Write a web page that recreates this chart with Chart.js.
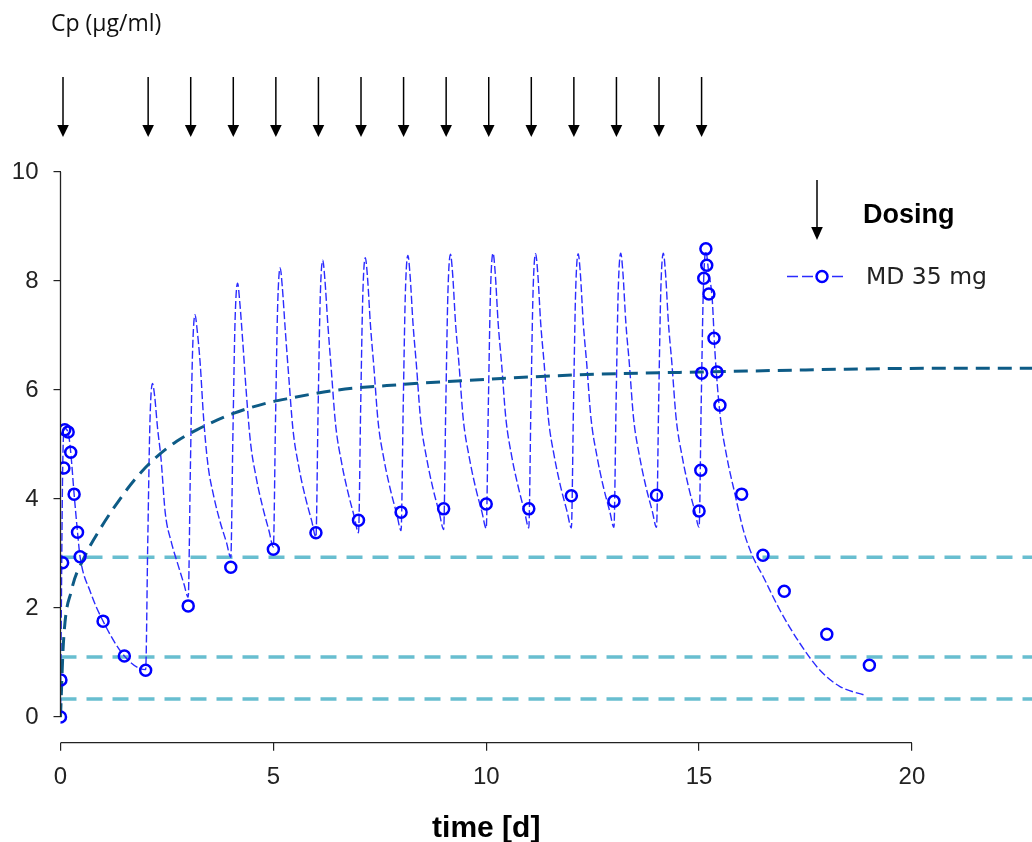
<!DOCTYPE html>
<html>
<head>
<meta charset="utf-8">
<script src="https://cdn.jsdelivr.net/npm/chart.js@4"></script>
<style>
  html, body { margin: 0; padding: 0; background: #fff; }
  canvas { display: block; }
</style>
</head>
<body>
<canvas id="pkChart" width="1032" height="842"></canvas>
<script>
// dosing times [d]
const doseTimes = [0, 2, 3, 4, 5, 6, 7, 8, 9, 10, 11, 12, 13, 14, 15];

// measured plasma concentrations, MD 35 mg
const obsTime = [0, 0.01, 0.05, 0.08, 0.1, 0.18, 0.24, 0.32, 0.4, 0.46, 1, 1.5, 2, 3, 4, 5, 6, 7, 8, 9, 10, 11, 12, 13, 14,
  15, 15.04, 15.06, 15.11, 15.16, 15.18, 15.23, 15.35, 15.42, 15.49, 16, 16.5, 17, 18, 19];
const obsConc = [0, 0.68, 2.83, 4.57, 5.27, 5.23, 4.86, 4.09, 3.39, 2.94, 1.76, 1.12, 0.86, 2.04, 2.75, 3.08, 3.38, 3.61, 3.76, 3.82, 3.91, 3.82, 4.06, 3.96, 4.07,
  3.78, 4.53, 6.31, 8.05, 8.59, 8.29, 7.76, 6.95, 6.33, 5.72, 4.09, 2.97, 2.31, 1.52, 0.95];

// fitted model profile (one row per dosing interval)
const modelTime = [
  0, 0.02, 0.05, 0.09, 0.18, 0.24, 0.32, 0.4, 0.46, 0.7, 1.0, 1.5,
  2, 2.05, 2.1, 2.16, 2.21, 2.28, 2.36, 2.46, 2.6, 2.75, 2.9,
  3, 3.05, 3.1, 3.16, 3.21, 3.28, 3.36, 3.46, 3.6, 3.75, 3.9,
  4, 4.05, 4.1, 4.16, 4.21, 4.28, 4.36, 4.46, 4.6, 4.75, 4.9,
  5, 5.05, 5.1, 5.16, 5.21, 5.28, 5.36, 5.46, 5.6, 5.75, 5.9,
  6, 6.05, 6.1, 6.16, 6.21, 6.28, 6.36, 6.46, 6.6, 6.75, 6.9,
  7, 7.05, 7.1, 7.16, 7.21, 7.28, 7.36, 7.46, 7.6, 7.75, 7.9,
  8, 8.05, 8.1, 8.16, 8.21, 8.28, 8.36, 8.46, 8.6, 8.75, 8.9,
  9, 9.05, 9.1, 9.16, 9.21, 9.28, 9.36, 9.46, 9.6, 9.75, 9.9,
  10, 10.05, 10.1, 10.16, 10.21, 10.28, 10.36, 10.46, 10.6, 10.75, 10.9,
  11, 11.05, 11.1, 11.16, 11.21, 11.28, 11.36, 11.46, 11.6, 11.75, 11.9,
  12, 12.05, 12.1, 12.16, 12.21, 12.28, 12.36, 12.46, 12.6, 12.75, 12.9,
  13, 13.05, 13.1, 13.16, 13.21, 13.28, 13.36, 13.46, 13.6, 13.75, 13.9,
  14, 14.05, 14.1, 14.16, 14.21, 14.28, 14.36, 14.46, 14.6, 14.75, 14.9,
  15, 15.05, 15.1, 15.16, 15.22, 15.31, 15.37, 15.49, 15.65, 15.84, 16.04, 16.23, 16.51, 16.9, 17.37, 17.84, 18.31, 18.9
];
const modelConc = [
  0, 2.0, 4.5, 5.3, 5.22, 4.86, 4.09, 3.39, 2.94, 2.3, 1.76, 1.12,
  0.87, 3.23, 5.39, 6.12, 5.9, 5.3, 4.75, 3.75, 3.22, 2.82, 2.44,
  2.2, 4.53, 6.65, 7.38, 7.1, 6.5, 5.5, 4.65, 4.05, 3.58, 3.2,
  2.93, 5.19, 7.26, 7.96, 7.62, 6.9, 6.0, 5.06, 4.38, 3.85, 3.41,
  3.12, 5.42, 7.52, 8.24, 7.89, 7.1, 6.26, 5.28, 4.58, 4.04, 3.6,
  3.3, 5.59, 7.67, 8.38, 8.03, 7.2, 6.38, 5.38, 4.68, 4.13, 3.68,
  3.38, 5.65, 7.72, 8.43, 8.08, 7.2, 6.43, 5.42, 4.72, 4.17, 3.72,
  3.42, 5.69, 7.76, 8.47, 8.12, 7.22, 6.46, 5.45, 4.75, 4.19, 3.74,
  3.44, 5.71, 7.78, 8.49, 8.14, 7.22, 6.48, 5.47, 4.77, 4.21, 3.76,
  3.46, 5.73, 7.8, 8.51, 8.16, 7.23, 6.49, 5.49, 4.78, 4.23, 3.77,
  3.47, 5.73, 7.8, 8.5, 8.15, 7.22, 6.49, 5.48, 4.78, 4.22, 3.77,
  3.47, 5.73, 7.8, 8.5, 8.15, 7.22, 6.49, 5.49, 4.79, 4.23, 3.78,
  3.48, 5.74, 7.81, 8.51, 8.16, 7.23, 6.5, 5.49, 4.79, 4.23, 3.78,
  3.48, 5.74, 7.81, 8.51, 8.16, 7.23, 6.5, 5.49, 4.79, 4.23, 3.78,
  3.48, 5.76, 7.84, 8.55, 8.2, 7.65, 6.73, 5.57, 4.78, 4.1, 3.43, 3.0, 2.57, 1.96, 1.35, 0.86, 0.56, 0.4
];

// mean concentration build-up
const meanTime = [0, 0.07, 0.26, 0.54, 0.93, 1.47, 1.79, 2.18, 2.73, 3.2, 4.06, 4.84, 5.39, 6.5, 8, 9.6, 12.2, 15, 20.9, 22.82];
const meanConc = [0, 1.38, 2.33, 2.9, 3.45, 4.08, 4.4, 4.72, 5.06, 5.27, 5.57, 5.76, 5.85, 6.0, 6.1, 6.18, 6.28, 6.33, 6.4, 6.4];

// reference levels
const refLevels = [2.93, 1.1, 0.33];

const xTicks = [0, 5, 10, 15, 20];
const yTicks = [0, 2, 4, 6, 8, 10];

const sansFont = "'Liberation Sans', Arial, sans-serif";

function pts(xs, ys) {
  return xs.map((x, i) => ({ x: x, y: ys[i] }));
}

function drawArrow(ctx, x, yTop, yHead, yTip, halfW) {
  ctx.beginPath();
  ctx.moveTo(x, yTop);
  ctx.lineTo(x, yHead + 1);
  ctx.stroke();
  ctx.beginPath();
  ctx.moveTo(x - halfW, yHead);
  ctx.lineTo(x + halfW, yHead);
  ctx.lineTo(x, yTip);
  ctx.closePath();
  ctx.fill();
}

// axis lines, dosing arrows, legend and titles
const decorations = {
  id: 'decorations',
  afterDraw(chart) {
    const ctx = chart.ctx;
    const xs = chart.scales.x;
    const ys = chart.scales.y;
    const area = chart.chartArea;
    ctx.save();

    ctx.strokeStyle = '#222';
    ctx.lineWidth = 1.3;
    ctx.beginPath();
    ctx.moveTo(xs.getPixelForValue(0), area.bottom);
    ctx.lineTo(xs.getPixelForValue(20), area.bottom);
    ctx.moveTo(area.left, ys.getPixelForValue(0));
    ctx.lineTo(area.left, ys.getPixelForValue(10));
    ctx.stroke();

    // dosing arrows
    ctx.strokeStyle = '#000';
    ctx.fillStyle = '#000';
    ctx.lineWidth = 1.5;
    doseTimes.forEach(t => {
      drawArrow(ctx, xs.getPixelForValue(t) + 2.5, 77, 125, 137, 5.8);
    });

    // legend
    drawArrow(ctx, 817, 180, 227, 240, 5.8);
    ctx.font = "bold 27px " + sansFont;
    ctx.textBaseline = 'alphabetic';
    ctx.textAlign = 'left';
    ctx.fillText('Dosing', 863, 223);

    ctx.strokeStyle = '#2b2bff';
    ctx.lineWidth = 1.6;
    ctx.setLineDash([11, 4]);
    ctx.beginPath();
    ctx.moveTo(787, 276.5);
    ctx.lineTo(847, 276.5);
    ctx.stroke();
    ctx.setLineDash([]);
    ctx.strokeStyle = '#0000ff';
    ctx.lineWidth = 2.5;
    ctx.fillStyle = '#fff';
    ctx.beginPath();
    ctx.arc(822, 276.5, 5.5, 0, Math.PI * 2);
    ctx.fill();
    ctx.stroke();

    ctx.fillStyle = '#222';
    ctx.font = "23.5px 'DejaVu Sans', sans-serif";
    ctx.fillText('MD 35 mg', 866, 284);

    // titles
    ctx.font = "23px 'Open Sans', sans-serif";
    ctx.fillStyle = '#111';
    ctx.fillText('Cp (µg/ml)', 51, 31);

    ctx.font = "bold 30px " + sansFont;
    ctx.fillStyle = '#000';
    ctx.textAlign = 'center';
    ctx.fillText('time [d]', xs.getPixelForValue(10), 837);

    ctx.restore();
  }
};

const ctx = document.getElementById('pkChart').getContext('2d');
new Chart(ctx, {
  type: 'scatter',
  data: {
    datasets: [
      {
        label: 'MD 35 mg',
        data: pts(obsTime, obsConc),
        showLine: false,
        pointStyle: 'circle',
        pointRadius: 5.5,
        pointBorderWidth: 2.5,
        pointBorderColor: '#0000ff',
        pointBackgroundColor: 'rgba(0,0,0,0)',
        order: 0
      },
      {
        label: 'mean',
        data: pts(meanTime, meanConc),
        showLine: true,
        borderColor: '#0d5b86',
        borderWidth: 3,
        borderDash: [14, 8],
        cubicInterpolationMode: 'monotone',
        pointRadius: 0,
        order: 1
      },
      {
        label: 'model',
        data: pts(modelTime, modelConc),
        showLine: true,
        borderColor: '#2b2bff',
        borderWidth: 1.4,
        borderDash: [8, 3],
        cubicInterpolationMode: 'monotone',
        pointRadius: 0,
        order: 2
      },
      ...refLevels.map(v => ({
        label: 'level ' + v,
        data: [{ x: 0, y: v }, { x: 22.82, y: v }],
        showLine: true,
        borderColor: '#68bed0',
        borderWidth: 3.5,
        borderDash: [16, 10],
        pointRadius: 0,
        order: 3
      }))
    ]
  },
  options: {
    responsive: false,
    animation: false,
    layout: { autoPadding: false, padding: { top: 144.75, left: 0, right: 0, bottom: 0 } },
    plugins: {
      legend: { display: false },
      tooltip: { enabled: false }
    },
    scales: {
      x: {
        type: 'linear',
        min: 0,
        max: 22.82,
        afterFit: s => { s.height = 99.3; s.paddingLeft = 0; s.paddingRight = 0; },
        afterBuildTicks: s => { s.ticks = xTicks.map(v => ({ value: v })); },
        border: { display: false },
        grid: { drawOnChartArea: false, drawTicks: true, tickLength: 8, color: '#222', lineWidth: 1.2 },
        ticks: { padding: 12, color: '#222', font: { family: sansFont, size: 24 } }
      },
      y: {
        type: 'linear',
        min: -0.47,
        max: 10.5,
        afterFit: s => { s.width = 60.5; },
        afterBuildTicks: s => { s.ticks = yTicks.map(v => ({ value: v })); },
        border: { display: false },
        grid: { drawOnChartArea: false, drawTicks: true, tickLength: 7, color: '#222', lineWidth: 1.2 },
        ticks: { padding: 15, color: '#222', font: { family: sansFont, size: 24 } }
      }
    }
  },
  plugins: [decorations]
});
</script>
</body>
</html>
